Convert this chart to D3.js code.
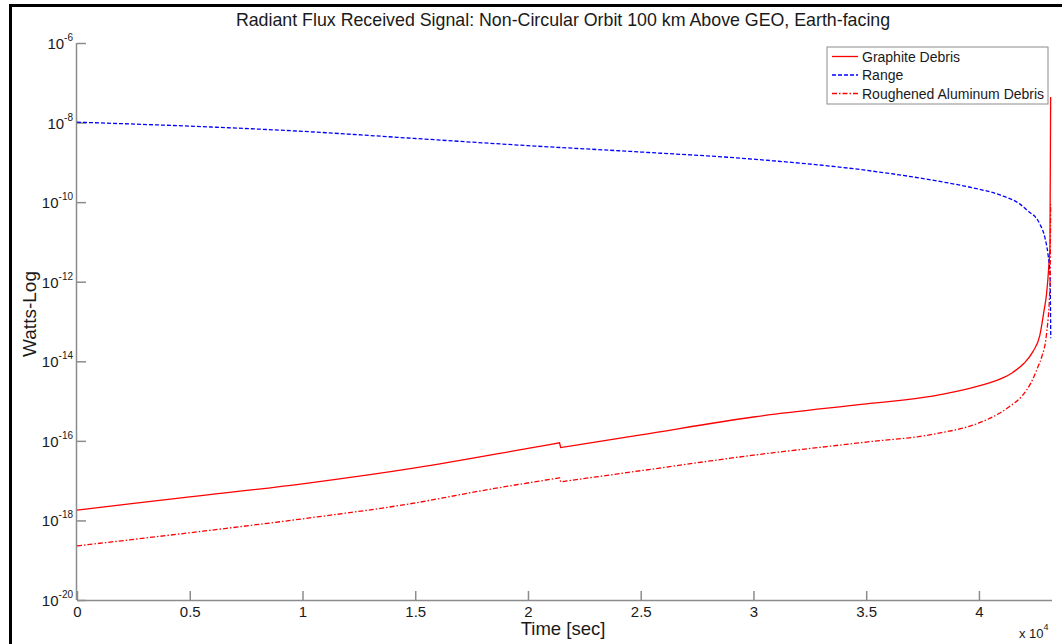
<!DOCTYPE html>
<html>
<head>
<meta charset="utf-8">
<script src="https://cdn.jsdelivr.net/npm/d3@7"></script>
<style>
  html, body { margin: 0; padding: 0; background: #fff; }
  svg { display: block; font-family: "Liberation Sans", Arial, sans-serif; }
</style>
</head>
<body>
<svg id="chart" width="1062" height="644"></svg>
<script>
// Time samples [s] and received power as log10(W) for each series
const rangeTime = [0, 5000, 10000, 15000, 20000, 25000, 30000, 35000, 38270, 39730, 40930, 41820, 42130, 42700, 42930, 43060, 43150, 43170, 43185];
const rangeExp  = [-7.99, -8.09, -8.22, -8.40, -8.58, -8.74, -8.92, -9.20, -9.48, -9.64, -9.82, -10.05, -10.20, -10.55, -10.90, -11.30, -11.80, -12.50, -13.42];

const graphiteTime = [0, 5000, 10000, 15000, 20000, 21400, 21450, 25000, 30000, 35000, 38000, 40000, 40930, 41500, 42000, 42400, 42700, 42880, 43000, 43100, 43150, 43180];
const graphiteExp  = [-17.74, -17.41, -17.08, -16.68, -16.19, -16.05, -16.17, -15.85, -15.40, -15.07, -14.87, -14.62, -14.45, -14.28, -14.05, -13.75, -13.35, -12.75, -12.30, -11.60, -11.10, -7.36];

const aluminumTime = [0, 5000, 10000, 15000, 17870, 21400, 21450, 25000, 30000, 35000, 38000, 40000, 40930, 41400, 41900, 42300, 42610, 42790, 43000, 43150, 43180];
const aluminumExp  = [-18.64, -18.31, -17.96, -17.56, -17.26, -16.93, -17.03, -16.75, -16.36, -16.03, -15.83, -15.55, -15.30, -15.12, -14.88, -14.55, -14.15, -13.88, -13.30, -12.10, -10.05];

// index of the first sample after the step near t = 2.14e4 (null = no step)
const graphiteStep = 6;
const aluminumStep = 6;

const xTicks = [0, 5000, 10000, 15000, 20000, 25000, 30000, 35000, 40000];
const xTickLabels = ["0", "0.5", "1", "1.5", "2", "2.5", "3", "3.5", "4"];
const yTickExps = [-20, -18, -16, -14, -12, -10, -8, -6];

const legendNames = ["Graphite Debris", "Range", "Roughened Aluminum Debris"];

const svg = d3.select("#chart");
const plot = { left: 77, right: 1052, top: 43, bottom: 600 };

const x = d3.scaleLinear().domain([0, 43240]).range([plot.left, plot.right]);
const y = d3.scaleLog().domain([1e-20, 1e-6]).range([plot.bottom, plot.top]);

// frame lines along the top and left edges of the figure
svg.append("rect").attr("x", 9).attr("y", 4).attr("width", 1053).attr("height", 3).attr("fill", "#000");
svg.append("rect").attr("x", 9).attr("y", 4).attr("width", 3).attr("height", 640).attr("fill", "#000");

const axisColor = "#8c8c8c";
const textColor = "#1a1a1a";

// x axis (ticks point inward)
const xAxis = d3.axisBottom(x).tickValues(xTicks).tickSize(-9).tickFormat((d, i) => xTickLabels[i]).tickPadding(14);
const gx = svg.append("g").attr("transform", `translate(0,${plot.bottom})`).call(xAxis);
gx.select(".domain").attr("stroke", axisColor).attr("stroke-width", 1.5).attr("d", `M${plot.left},0.5H${plot.right}`);
gx.selectAll(".tick line").attr("stroke", axisColor).attr("stroke-width", 1.5);
gx.selectAll(".tick text").attr("fill", textColor).attr("font-size", 15).attr("font-family", "Liberation Sans, Arial, sans-serif").attr("dy", "0.2em");

// y axis (log, ticks inward)
const yAxis = d3.axisLeft(y).tickValues(yTickExps.map(e => Math.pow(10, e))).tickSize(-9).tickFormat("");
const gy = svg.append("g").attr("transform", `translate(${plot.left},0)`).call(yAxis);
gy.select(".domain").attr("stroke", axisColor).attr("stroke-width", 1.5).attr("d", `M-0.5,${plot.top}V${plot.bottom}`);
gy.selectAll(".tick line").attr("stroke", axisColor).attr("stroke-width", 1.5);

// y tick labels as 10 with superscript exponent
yTickExps.forEach(e => {
  const t = svg.append("text")
    .attr("x", 73).attr("y", y(Math.pow(10, e)) + 6)
    .attr("text-anchor", "end").attr("fill", textColor).attr("font-size", 15);
  t.append("tspan").text("10");
  t.append("tspan").attr("dy", -8).attr("font-size", 10).text(String(e));
});

// axis titles
svg.append("text").attr("x", 563).attr("y", 635).attr("text-anchor", "middle")
  .attr("font-size", 18.5).attr("fill", textColor).text("Time [sec]");
svg.append("text").attr("transform", "translate(36,314) rotate(-90)").attr("text-anchor", "middle")
  .attr("font-size", 19).attr("fill", textColor).text("Watts-Log");
const mult = svg.append("text").attr("x", 1019).attr("y", 638).attr("fill", textColor).attr("font-size", 13);
mult.append("tspan").text("x 10");
mult.append("tspan").attr("dy", -8).attr("font-size", 9).text("4");

// title
svg.append("text").attr("x", 563).attr("y", 26).attr("text-anchor", "middle")
  .attr("font-size", 17.8).attr("fill", textColor)
  .text("Radiant Flux Received Signal: Non-Circular Orbit 100 km Above GEO, Earth-facing");

// series
const series = [
  { name: legendNames[0], t: graphiteTime, v: graphiteExp, step: graphiteStep, color: "#ff0000", dash: null },
  { name: legendNames[1], t: rangeTime, v: rangeExp, step: null, color: "#0000ff", dash: "4,2" },
  { name: legendNames[2], t: aluminumTime, v: aluminumExp, step: aluminumStep, color: "#ff0000", dash: "5,2,1.5,2" }
];

const line = d3.line().x(d => x(d[0])).y(d => y(d[1])).curve(d3.curveMonotoneX);

// smooth pieces on each side of a step, joined by a straight segment
function seriesPath(s) {
  const pts = s.t.map((t, i) => [t, Math.pow(10, s.v[i])]);
  if (s.step == null) return line(pts);
  const a = line(pts.slice(0, s.step));
  const b = line(pts.slice(s.step));
  return a + "L" + b.slice(1);
}

series.forEach(s => {
  svg.append("path")
    .attr("d", seriesPath(s))
    .attr("fill", "none")
    .attr("stroke", s.color)
    .attr("stroke-width", 1.3)
    .attr("stroke-dasharray", s.dash);
});

// legend
const lg = svg.append("g").attr("transform", "translate(827,47)");
lg.append("rect").attr("x", 0).attr("y", 0).attr("width", 221).attr("height", 57)
  .attr("fill", "#fff").attr("stroke", "#8c8c8c").attr("stroke-width", 1);
series.forEach((s, i) => {
  const cy = 9.5 + i * 18.5;
  lg.append("line").attr("x1", 5).attr("x2", 31).attr("y1", cy).attr("y2", cy)
    .attr("stroke", s.color).attr("stroke-width", 1.3).attr("stroke-dasharray", s.dash);
  lg.append("text").attr("x", 35).attr("y", cy + 5).attr("font-size", 14)
    .attr("fill", textColor).text(s.name);
});
</script>
</body>
</html>
